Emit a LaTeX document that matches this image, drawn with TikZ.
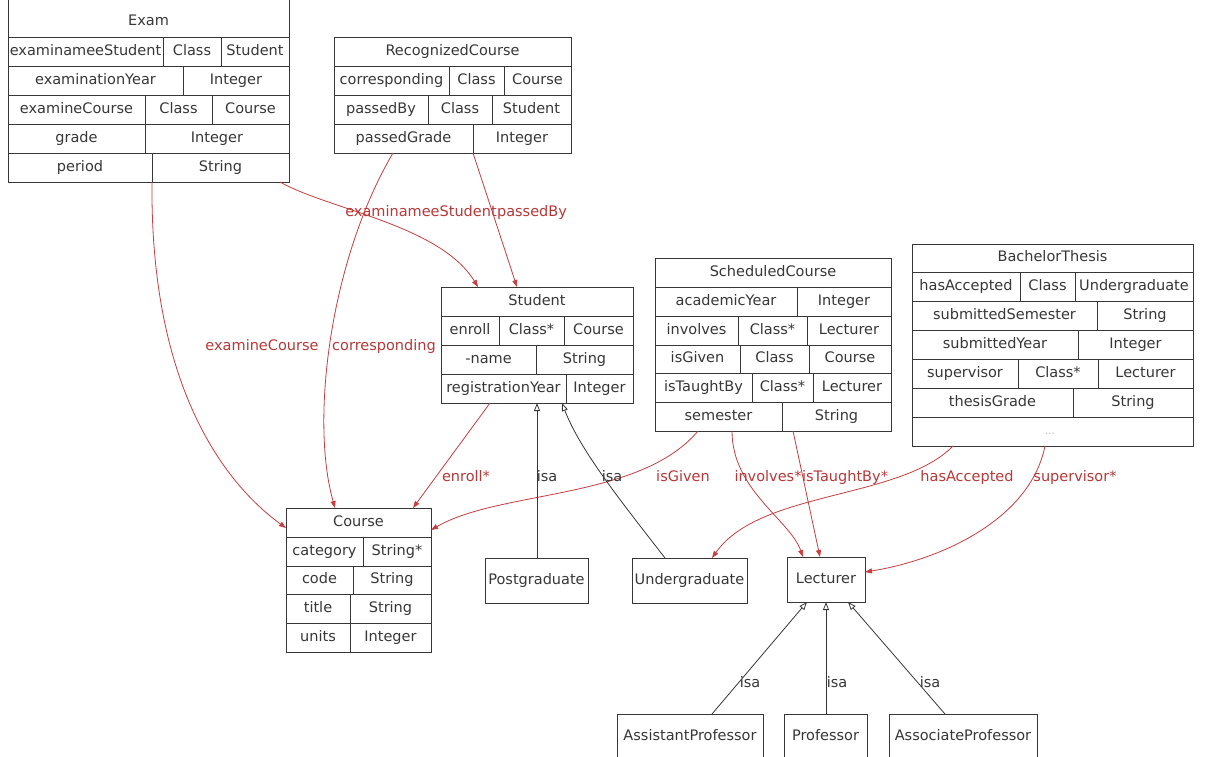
\documentclass[tikz,border=0pt]{standalone}
\usepackage{fontspec}
\setmainfont{DejaVu Sans}
\usetikzlibrary{arrows.meta}
\definecolor{edgered}{RGB}{200,62,62}
\definecolor{txtred}{RGB}{185,55,55}
\definecolor{ink}{RGB}{55,55,55}
\newcommand\tcell[6]{%
  \draw[cellline] (#2,#4) rectangle (#3,#5);
  \node[celltxt] (#1) at ({(#2+#3)/2},{(#4+#5)/2}) {#6};}
\begin{document}
\begin{tikzpicture}[x=1pt,y=-1pt,
  cellline/.style={draw=ink,line width=0.9pt},
  celltxt/.style={inner sep=0pt,text=ink,font=\fontsize{14.5}{17}\selectfont,text height=10pt,text depth=3pt},
  simplebox/.style={draw=ink,line width=0.9pt,inner sep=0pt,text=ink,font=\fontsize{14.5}{17}\selectfont,text height=10pt,text depth=3pt,minimum height=45pt},
  redge/.style={draw=edgered,line width=0.8pt,-{Triangle[length=7pt,width=5pt]}},
  isaedge/.style={draw=ink,line width=0.8pt,-{Triangle[open,length=8pt,width=6pt]}},
  redlbl/.style={inner sep=0pt,text=txtred,font=\fontsize{14.5}{17}\selectfont,text height=10pt,text depth=3pt},
  isalbl/.style={inner sep=0pt,text=ink,font=\fontsize{14.5}{17}\selectfont,text height=10pt,text depth=3pt}]
\useasboundingbox (0,0) rectangle (1205,756);
\fill[white] (0,0) rectangle (1205,756);

% ---------------- Exam ----------------
\draw[cellline] (8,-8) rectangle (289,37);
\node[celltxt] (examH) at (148.5,22) {Exam};
\tcell{ex1a}{8}{163}{37}{66}{examinameeStudent}
\tcell{ex1b}{163}{221}{37}{66}{Class}
\tcell{ex1c}{221}{289}{37}{66}{Student}
\tcell{ex2a}{8}{183}{66}{95}{examinationYear}
\tcell{ex2b}{183}{289}{66}{95}{Integer}
\tcell{ex3a}{8}{145}{95}{124}{examineCourse}
\tcell{ex3b}{145}{212}{95}{124}{Class}
\tcell{ex3c}{212}{289}{95}{124}{Course}
\tcell{ex4a}{8}{145}{124}{153}{grade}
\tcell{ex4b}{145}{289}{124}{153}{Integer}
\tcell{ex5a}{8}{152}{153}{182}{period}
\tcell{ex5b}{152}{289}{153}{182}{String}

% ---------------- RecognizedCourse ----------------
\tcell{rcH}{334}{571}{37}{66}{RecognizedCourse}
\tcell{rc1a}{334}{449}{66}{95}{corresponding}
\tcell{rc1b}{449}{504}{66}{95}{Class}
\tcell{rc1c}{504}{571}{66}{95}{Course}
\tcell{rc2a}{334}{428}{95}{124}{passedBy}
\tcell{rc2b}{428}{492}{95}{124}{Class}
\tcell{rc2c}{492}{571}{95}{124}{Student}
\tcell{rc3a}{334}{473}{124}{153}{passedGrade}
\tcell{rc3b}{473}{571}{124}{153}{Integer}

% ---------------- Student ----------------
\tcell{stH}{441}{633}{287}{316}{Student}
\tcell{st1a}{441}{499}{316}{345}{enroll}
\tcell{st1b}{499}{564}{316}{345}{Class*}
\tcell{st1c}{564}{633}{316}{345}{Course}
\tcell{st2a}{441}{536}{345}{374}{-name}
\tcell{st2b}{536}{633}{345}{374}{String}
\tcell{st3a}{441}{566}{374}{403}{registrationYear}
\tcell{st3b}{566}{633}{374}{403}{Integer}

% ---------------- ScheduledCourse ----------------
\tcell{scH}{655}{891}{258}{287}{ScheduledCourse}
\tcell{sc1a}{655}{797}{287}{316}{academicYear}
\tcell{sc1b}{797}{891}{287}{316}{Integer}
\tcell{sc2a}{655}{738}{316}{345}{involves}
\tcell{sc2b}{738}{807}{316}{345}{Class*}
\tcell{sc2c}{807}{891}{316}{345}{Lecturer}
\tcell{sc3a}{655}{740}{345}{373}{isGiven}
\tcell{sc3b}{740}{809}{345}{373}{Class}
\tcell{sc3c}{809}{891}{345}{373}{Course}
\tcell{sc4a}{655}{752}{373}{402}{isTaughtBy}
\tcell{sc4b}{752}{813}{373}{402}{Class*}
\tcell{sc4c}{813}{891}{373}{402}{Lecturer}
\tcell{sc5a}{655}{782}{402}{431}{semester}
\tcell{sc5b}{782}{891}{402}{431}{String}

% ---------------- BachelorThesis ----------------
\tcell{btH}{912}{1193}{244}{272}{BachelorThesis}
\tcell{bt1a}{912}{1020}{272}{301}{hasAccepted}
\tcell{bt1b}{1020}{1075}{272}{301}{Class}
\tcell{bt1c}{1075}{1193}{272}{301}{Undergraduate}
\tcell{bt2a}{912}{1097}{301}{330}{submittedSemester}
\tcell{bt2b}{1097}{1193}{301}{330}{String}
\tcell{bt3a}{912}{1078}{330}{359}{submittedYear}
\tcell{bt3b}{1078}{1193}{330}{359}{Integer}
\tcell{bt4a}{912}{1018}{359}{388}{supervisor}
\tcell{bt4b}{1018}{1098}{359}{388}{Class*}
\tcell{bt4c}{1098}{1193}{359}{388}{Lecturer}
\tcell{bt5a}{912}{1073}{388}{417}{thesisGrade}
\tcell{bt5b}{1073}{1193}{388}{417}{String}
\draw[cellline] (912,417) rectangle (1193,446);
\node[inner sep=0pt,text=gray!60,font=\fontsize{10}{12}\selectfont] (btdots) at (1050,434) {...};

% ---------------- Course ----------------
\tcell{coH}{286}{431}{508}{537}{Course}
\tcell{co1a}{286}{363}{537}{566}{category}
\tcell{co1b}{363}{431}{537}{566}{String*}
\tcell{co2a}{286}{353}{566}{594}{code}
\tcell{co2b}{353}{431}{566}{594}{String}
\tcell{co3a}{286}{350}{594}{623}{title}
\tcell{co3b}{350}{431}{594}{623}{String}
\tcell{co4a}{286}{350}{623}{652}{units}
\tcell{co4b}{350}{431}{623}{652}{Integer}

% ---------------- simple classes ----------------
\node[simplebox,minimum width=103pt] (postgrad) at (536.5,580.5) {Postgraduate};
\node[simplebox,minimum width=115pt] (undergrad) at (689.5,580.5) {Undergraduate};
\node[simplebox,minimum width=78pt] (lecturer) at (826,579.5) {Lecturer};
\node[simplebox,minimum width=146pt] (asstprof) at (690,737) {AssistantProfessor};
\node[simplebox,minimum width=83pt] (prof) at (825.5,737) {Professor};
\node[simplebox,minimum width=148pt] (assocprof) at (963,737) {AssociateProfessor};

% ---------------- ports ----------------
\coordinate (pExStu) at (280,182);
\coordinate (pExCo) at (152,182);
\coordinate (pRcCo) at (393,153);
\coordinate (pRcStu) at (473,153);
\coordinate (pStuIn1) at (478,287);
\coordinate (pStuIn2) at (517,287);
\coordinate (pStuEn) at (490,403);
\coordinate (pStuB1) at (537,403);
\coordinate (pStuB2) at (562,403);
\coordinate (pCoN1) at (335,508);
\coordinate (pCoN2) at (413,508);
\coordinate (pCoW) at (286,528);
\coordinate (pCoE) at (431,530);
\coordinate (pScG) at (698,431);
\coordinate (pScI) at (732,431);
\coordinate (pScT) at (793,431);
\coordinate (pBtH) at (953,446);
\coordinate (pBtS) at (1045,446);
\coordinate (pUgN) at (712,558);
\coordinate (pUgIsa) at (665,558);
\coordinate (pPgIsa) at (537,558);
\coordinate (pLeN1) at (803,557);
\coordinate (pLeN2) at (820,557);
\coordinate (pLeE) at (865,572);
\coordinate (pLeS1) at (807,602);
\coordinate (pLeS2) at (826,602);
\coordinate (pLeS3) at (848,602);
\coordinate (pApN) at (712,714);
\coordinate (pPrN) at (826,714);
\coordinate (pAsN) at (945,714);

% ---------------- red association edges ----------------
\draw[redge] (pExStu) .. controls (330,210) and (440,225) .. (pStuIn1);
\draw[redge] (pRcStu) -- (pStuIn2);
\draw[redge] (pRcCo) .. controls (330,260) and (310,420) .. (pCoN1);
\draw[redge] (pExCo) .. controls (150,380) and (220,480) .. (pCoW);
\draw[redge] (pStuEn) -- (pCoN2);
\draw[redge] (pScG) .. controls (640,500) and (500,490) .. (pCoE);
\draw[redge] (pScI) .. controls (732,490) and (790,520) .. (pLeN1);
\draw[redge] (pScT) -- (pLeN2);
\draw[redge] (pBtH) .. controls (900,500) and (760,490) .. (pUgN);
\draw[redge] (pBtS) .. controls (1030,520) and (940,560) .. (pLeE);

\node[redlbl] (lExStu) at (421,213) {examinameeStudent};
\node[redlbl] (lPassed) at (532,213) {passedBy};
\node[redlbl] (lExCo) at (262,347) {examineCourse};
\node[redlbl] (lCorr) at (384,347) {corresponding};
\node[redlbl] (lEnroll) at (466,478) {enroll*};
\node[redlbl] (lGiven) at (683,478) {isGiven};
\node[redlbl] (lInv) at (768,478) {involves*};
\node[redlbl] (lTaught) at (845,478) {isTaughtBy*};
\node[redlbl] (lHasAcc) at (967,478) {hasAccepted};
\node[redlbl] (lSup) at (1075,478) {supervisor*};

% ---------------- isa edges ----------------
\draw[isaedge] (pPgIsa) -- (pStuB1);
\draw[isaedge] (pUgIsa) .. controls (620,500) and (580,450) .. (pStuB2);
\draw[isaedge] (pApN) -- (pLeS1);
\draw[isaedge] (pPrN) -- (pLeS2);
\draw[isaedge] (pAsN) -- (pLeS3);

\node[isalbl] (lIsa1) at (547,478) {isa};
\node[isalbl] (lIsa2) at (612,478) {isa};
\node[isalbl] (lIsa3) at (750,684) {isa};
\node[isalbl] (lIsa4) at (837,684) {isa};
\node[isalbl] (lIsa5) at (930,684) {isa};
\end{tikzpicture}
\end{document}
